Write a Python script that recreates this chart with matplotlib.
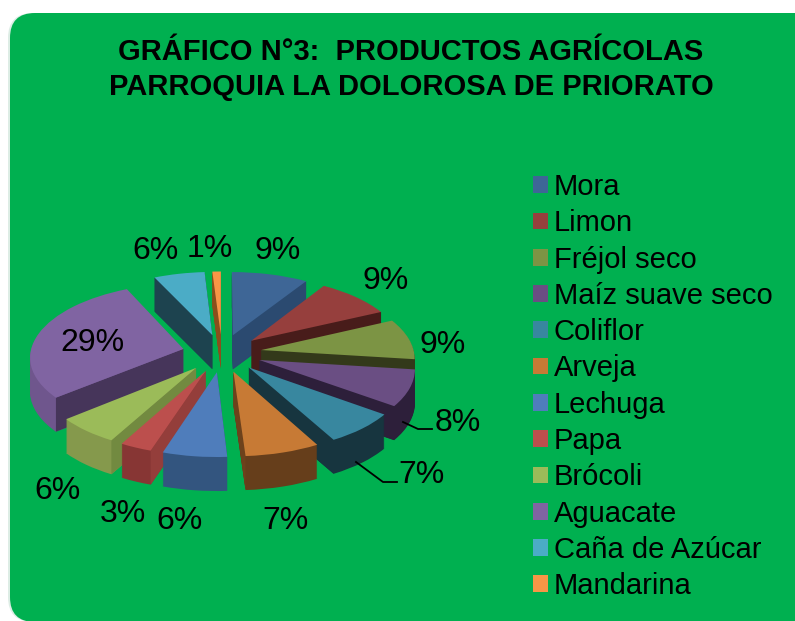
import numpy as np
import matplotlib
matplotlib.use('Agg')
import matplotlib.pyplot as plt
from matplotlib.patches import FancyBboxPatch, Patch, Polygon
from matplotlib.transforms import Transform

plt.rcParams['font.family'] = ['Liberation Sans', 'DejaVu Sans']

title = 'GRÁFICO N°3:  PRODUCTOS AGRÍCOLAS\nPARROQUIA LA DOLOROSA DE PRIORATO'
products = ['Mora', 'Limon', 'Fréjol seco', 'Maíz suave seco', 'Coliflor', 'Arveja',
            'Lechuga', 'Papa', 'Brócoli', 'Aguacate', 'Caña de Azúcar', 'Mandarina']
shares = [9, 9, 9, 8, 7, 7, 6, 3, 6, 29, 6, 1]
top_colors = ['#3E6696', '#963F3D', '#7C9444', '#6A4E83', '#38879F', '#C77A35',
              '#4F7DBB', '#BC4F4D', '#9BBB59', '#8064A2', '#4BACC6', '#F79646']
rim_colors = ['#2B4A70', '#481C1A', '#33391A', '#2D1F3A', '#17353F', '#663E1B',
              '#33557F', '#873634', '#85994C', '#6F568D', '#1D434F', '#8A4F1C']
face_colors = ['#2B4A70', '#481C1A', '#33391A', '#2D1F3A', '#17353F', '#6D421C',
               '#33557F', '#943E3B', '#728A40', '#46355A', '#1D434F', '#8A4F1C']

W, H = 795, 621
fig = plt.figure(figsize=(W / 100, H / 100), dpi=100, facecolor='white')

# background card
bg = fig.add_axes([0, 0, 1, 1], zorder=0)
bg.set_xlim(0, W)
bg.set_ylim(H, 0)
bg.axis('off')
bg.add_patch(FancyBboxPatch((8, 13), 860, 609, boxstyle='round,pad=0,rounding_size=25',
                            fc='#DDEDE5', ec='none'))
bg.add_patch(FancyBboxPatch((10, 13), 860, 609, boxstyle='round,pad=0,rounding_size=25',
                            fc='#00B050', ec='none'))

# pie, tilted: projective squash into pixels, depth is stacked layers
cx, cy = 222, 353
rx, ry, persp = 153, 72.6, 0.097
depth = 34
explode = 0.26


class Tilt(Transform):
    input_dims = output_dims = 2

    def __init__(self, drop=0):
        super().__init__()
        self.drop = drop

    def transform_non_affine(self, xy):
        xy = np.asarray(xy, dtype=float)
        w = 1 + persp * xy[:, 1]
        return np.column_stack([cx + rx * xy[:, 0] / w, cy - ry * xy[:, 1] / w + self.drop])


pie_ax = fig.add_axes([0, 0, 1, 1], zorder=1)
pie_ax.patch.set_alpha(0)

vals = np.array(shares, dtype=float)
ends = np.cumsum(vals) / vals.sum() * 2 * np.pi
starts = ends - vals / vals.sum() * 2 * np.pi
mid = (starts + ends) / 2
rank = np.argsort(np.argsort(-np.cos(mid)))

for k in range(depth, -1, -1):
    cols = top_colors if k == 0 else rim_colors
    wedges, _ = pie_ax.pie(shares, colors=cols, explode=[explode] * len(shares), startangle=90,
                           counterclock=False, wedgeprops={'lw': 0})
    for w, r in zip(wedges, rank):
        w.set_zorder(r + 1 - k / (depth + 1))
        w.set_transform(Tilt(k) + pie_ax.transData)

pie_ax.set_aspect('auto')
pie_ax.set_xlim(0, W)
pie_ax.set_ylim(H, 0)
pie_ax.axis('off')

# straight cut faces that look towards the viewer
for i in range(len(shares)):
    apex = explode * np.array([np.sin(mid[i]), np.cos(mid[i])])
    for t, seen in ((starts[i], np.sin(starts[i]) < 0), (ends[i], np.sin(ends[i]) > 0)):
        if not seen:
            continue
        tip = apex + np.array([np.sin(t), np.cos(t)])
        upper = Tilt(0).transform_non_affine(np.array([apex, tip]))
        lower = Tilt(depth).transform_non_affine(np.array([tip, apex]))
        pie_ax.add_patch(Polygon(np.vstack([upper, lower]), fc=face_colors[i], ec='none',
                                 zorder=rank[i] + 0.99))

# text layer in pixel coordinates
top = fig.add_axes([0, 0, 1, 1], zorder=2)
top.set_xlim(0, W)
top.set_ylim(H, 0)
top.axis('off')
top.patch.set_alpha(0)

top.text(411, 69.5, title, ha='center', va='center', fontsize=21, fontweight='bold',
         linespacing=1.3, color='black')

label_xy = [(278, 251), (386, 281), (443, 345), (458, 423), (422, 475), (286, 521),
            (179, 521), (123, 514), (57, 491), (92, 343), (155, 251), (210, 249)]
for s, (x, y) in zip(shares, label_xy):
    top.text(x, y, f'{s}%', ha='center', va='center', fontsize=23, color='black')

top.plot([403, 418, 432], [422, 429, 429], color='black', lw=1.3)
top.plot([356, 383, 397], [462, 482, 482], color='black', lw=1.3)

handles = [Patch(fc=c, ec='none') for c in top_colors]
top.legend(handles, products, loc='upper left', bbox_to_anchor=(533 / W, 1 - 173 / H),
           frameon=False, fontsize=21, handlelength=0.51, handleheight=0.51,
           handletextpad=0.2, labelspacing=0.284, borderpad=0, borderaxespad=0,
           labelcolor='black')

fig.savefig('out.png', dpi=100)
